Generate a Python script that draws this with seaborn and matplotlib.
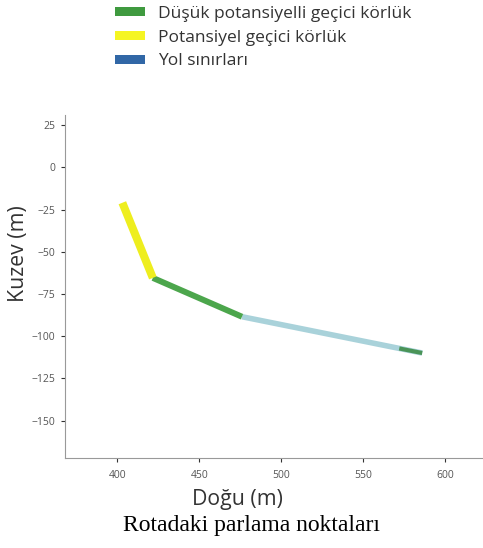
import matplotlib
matplotlib.use("Agg")
import matplotlib.pyplot as plt
import seaborn as sns
import pandas as pd
from matplotlib.patches import Patch

# Data
yellow_x = [403, 421.6]
yellow_y = [-21, -65.5]
green_x = [421.6, 476]
green_y = [-65.5, -88.5]
road_x = [476, 586]
road_y = [-88.5, -110]
tail_x = [572, 586]
tail_y = [-107.3, -110]

legend_labels = ["Düşük potansiyelli geçici körlük", "Potansiyel geçici körlük", "Yol sınırları"]
legend_colors = ["#3f9a3f", "#f5f522", "#3167a6"]
xticks = [400, 450, 500, 550, 600]
yticks = [25, 0, -25, -50, -75, -100, -125, -150]

sns.set_style("white")
plt.rcParams['font.family'] = ['Open Sans', 'DejaVu Sans']

fig = plt.figure(figsize=(4.83, 5.48), dpi=100)
ax = fig.add_axes([0.1346, 0.1648, 0.865, 0.6254])

segs = [
    (road_x, road_y, "#a9d2da", 4.0),
    (green_x, green_y, "#4ca64c", 4.3),
    (yellow_x, yellow_y, "#eeee1e", 5.8),
    (tail_x, tail_y, "#4a9458", 3.0),
]
for xs, ys, c, lw in segs:
    df = pd.DataFrame({"x": xs, "y": ys})
    sns.lineplot(data=df, x="x", y="y", ax=ax, color=c, linewidth=lw,
                 solid_capstyle="butt", sort=False)

ax.set_xlim(368, 623)
ax.set_ylim(-172, 31)
ax.set_xticks(xticks)
ax.set_yticks(yticks)
ax.tick_params(axis="both", labelsize=7.5, colors="#333333", length=3, width=0.8,
               direction="out", bottom=True, left=True, pad=4)
ax.tick_params(axis="x", pad=6)
for lbl in ax.get_xticklabels() + ax.get_yticklabels():
    lbl.set_color("#555555")
for s in ["top", "right"]:
    ax.spines[s].set_visible(False)
for s in ["left", "bottom"]:
    ax.spines[s].set_color("#999999")
    ax.spines[s].set_linewidth(0.8)

ax.set_xlabel("Doğu (m)", fontsize=15.3, color="#333333")
ax.set_ylabel("Kuzev (m)", fontsize=15.3, color="#333333")
ax.xaxis.set_label_coords(0.412, -0.092)
ax.yaxis.set_label_coords(-0.085, 0.595)

handles = [Patch(facecolor=c, edgecolor="none") for c in legend_colors]
fig.legend(handles, legend_labels, loc="upper left", bbox_to_anchor=(0.205, 1.018),
           frameon=False, fontsize=12.5, handlelength=1.75, handleheight=0.45,
           handletextpad=0.75, labelspacing=0.45, labelcolor="#333333")

fig.text(0.52, 0.041, "Rotadaki parlama noktaları", ha="center", va="center",
         fontsize=17, family=["Liberation Serif", "DejaVu Serif"], color="black")

fig.savefig("out.png", dpi=100)
